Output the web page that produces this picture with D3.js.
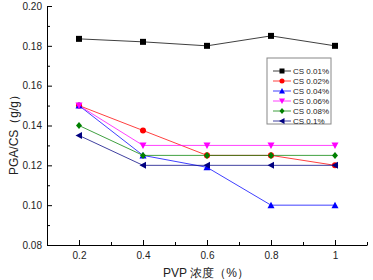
<!DOCTYPE html>
<html>
<head>
<meta charset="utf-8">
<script src="https://cdn.jsdelivr.net/npm/d3@7"></script>
<style>
body { margin: 0; background: #fff; }
svg text { font-family: "Liberation Sans", Arial, sans-serif; }
</style>
</head>
<body>
<svg id="chart" width="373" height="280"></svg>
<script>
// data
var pvp = [0.2, 0.4, 0.6, 0.8, 1];
var seriesNames = ["CS 0.01%", "CS 0.02%", "CS 0.04%", "CS 0.06%", "CS 0.08%", "CS 0.1%"];
var cs001 = [0.1835, 0.182, 0.180, 0.185, 0.180];
var cs002 = [0.150, 0.1375, 0.125, 0.125, 0.120];
var cs004 = [0.150, 0.125, 0.119, 0.100, 0.100];
var cs006 = [0.150, 0.130, 0.130, 0.130, 0.130];
var cs008 = [0.140, 0.125, 0.125, 0.125, 0.125];
var cs01 = [0.135, 0.120, 0.120, 0.120, 0.120];
var xTicks = [0.2, 0.4, 0.6, 0.8, 1];
var yTicks = [0.08, 0.10, 0.12, 0.14, 0.16, 0.18, 0.20];

var colors = ["#000000", "#ff0000", "#0000ff", "#ff00ff", "#008000", "#000080"];
var symbols = ["square", "circle", "up", "down", "diamond", "left"];
var allValues = [cs001, cs002, cs004, cs006, cs008, cs01];

var series = seriesNames.map(function(n, i) {
	return { name: n, color: colors[i], sym: symbols[i], values: allValues[i] };
});

var margin = { top: 6, left: 47, right: 6, bottom: 35 },
	width = 373 - margin.left - margin.right,
	height = 280 - margin.top - margin.bottom;

var svg = d3.select("#chart");
var g = svg.append("g").attr("transform", "translate(" + margin.left + "," + margin.top + ")");

var x = d3.scaleLinear().domain([0.1, 1.1]).range([0, width]);
var y = d3.scaleLinear().domain([0.08, 0.20]).range([height, 0]);

// marker path for a given kind
function marker(kind, s) {
	var h = s / 2;
	if (kind == "square") return "M" + -h + "," + -h + "h" + s + "v" + s + "h" + -s + "Z";
	if (kind == "circle") return d3.symbol(d3.symbolCircle, s * s * 0.8)();
	if (kind == "up") return "M0," + (-h - 0.5) + "L" + (h + 0.5) + "," + (h) + "L" + (-h - 0.5) + "," + h + "Z";
	if (kind == "down") return "M0," + (h + 0.5) + "L" + (h + 0.5) + "," + (-h) + "L" + (-h - 0.5) + "," + -h + "Z";
	if (kind == "diamond") return "M0," + (-h - 0.5) + "L" + (h) + ",0L0," + (h + 0.5) + "L" + -h + ",0Z";
	if (kind == "left") return "M" + (-h - 0.5) + ",0L" + h + "," + (-h - 0.5) + "L" + h + "," + (h + 0.5) + "Z";
}

// axes
var xAxis = d3.axisBottom(x).tickValues(xTicks).tickSizeInner(-5).tickSizeOuter(0)
	.tickFormat(function(d) { return d == 1 ? "1" : d3.format(".1f")(d); });
var gx = g.append("g").attr("transform", "translate(0," + height + ")").call(xAxis);
gx.selectAll("text").attr("dy", null).attr("y", 14).style("font-size", "10px").attr("fill", "#222");

var xMinor = d3.axisBottom(x).tickValues([0.3, 0.5, 0.7, 0.9, 1.1]).tickSize(-3).tickFormat("");
g.append("g").attr("transform", "translate(0," + height + ")").call(xMinor).select(".domain").remove();

var yAxis = d3.axisLeft(y).tickValues(yTicks).tickSizeInner(-5).tickSizeOuter(0).tickFormat(d3.format(".2f"));
var gy = g.append("g").call(yAxis);
gy.selectAll("text").attr("x", -5).style("font-size", "10px").attr("fill", "#222");

var yMinor = d3.axisLeft(y).tickValues([0.09, 0.11, 0.13, 0.15, 0.17, 0.19]).tickSize(-3).tickFormat("");
g.append("g").call(yMinor).select(".domain").remove();

g.selectAll(".domain").attr("stroke", "#000");

// lines and markers
var line = d3.line().x(function(d, i) { return x(pvp[i]); }).y(function(d) { return y(d); });

series.forEach(function(s) {
	g.append("path").datum(s.values)
		.attr("d", line)
		.attr("fill", "none")
		.attr("stroke", s.color)
		.attr("stroke-opacity", 0.75)
		.attr("stroke-width", 1);
});
series.forEach(function(s) {
	g.selectAll(null).data(s.values).enter().append("path")
		.attr("d", marker(s.sym, 6))
		.attr("transform", function(d, i) { return "translate(" + x(pvp[i]) + "," + y(d) + ")"; })
		.attr("fill", s.color);
});

// legend
var lg = svg.append("g").attr("transform", "translate(267,58)");
lg.append("rect").attr("width", 64).attr("height", 66)
	.attr("fill", "#fff").attr("stroke", "#888").attr("stroke-width", 1);
var rows = lg.selectAll(".row").data(series).enter().append("g")
	.attr("transform", function(d, i) { return "translate(0," + (13 + i * 10) + ")"; });
rows.append("line").attr("x1", 6).attr("x2", 24)
	.attr("stroke", function(d) { return d.color; }).attr("stroke-opacity", 0.75);
rows.append("path").attr("d", function(d) { return marker(d.sym, 5); })
	.attr("transform", "translate(15,0)").attr("fill", function(d) { return d.color; });
rows.append("text").attr("x", 26).attr("y", 3).text(function(d) { return d.name; })
	.style("font-size", "8px").attr("fill", "#222");

// axis titles
svg.append("text").attr("transform", "translate(18,132) rotate(-90)")
	.attr("text-anchor", "middle").style("font-size", "12px").attr("fill", "#222")
	.text("PGA/CS（g/g）");
svg.append("text").attr("x", 206).attr("y", 277)
	.attr("text-anchor", "middle").style("font-size", "12px").attr("fill", "#222")
	.text("PVP 浓度（%）");
</script>
</body>
</html>
